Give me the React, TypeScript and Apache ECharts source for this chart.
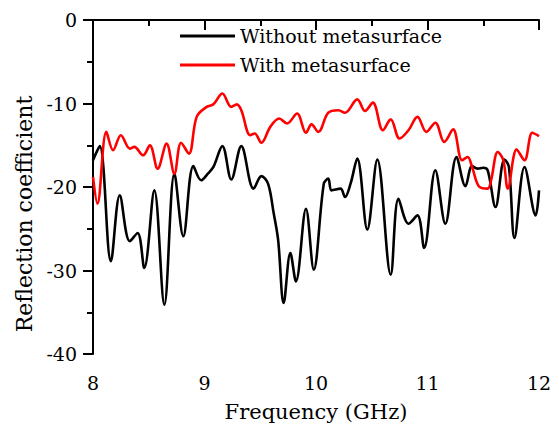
import React, { useEffect, useRef } from "react";
import * as echarts from "echarts";

const seriesNames = ["Without metasurface", "With metasurface"];

const freqWithout = [
  8.0, 8.06, 8.16, 8.24, 8.33, 8.4, 8.46, 8.55, 8.64, 8.73, 8.81, 8.9, 8.97, 9.03, 9.08, 9.16,
  9.24, 9.33, 9.44, 9.51, 9.57, 9.62, 9.66, 9.71, 9.77, 9.82, 9.91, 9.98, 10.07, 10.11, 10.14,
  10.22, 10.26, 10.31, 10.37, 10.46, 10.55, 10.67, 10.74, 10.83, 10.91, 10.97, 11.07, 11.16,
  11.26, 11.34, 11.4, 11.45, 11.5, 11.54, 11.61, 11.69, 11.73, 11.78, 11.87, 11.97, 12.0,
];
const valWithout = [
  -16.8, -15.1, -28.9, -21.0, -26.5, -25.5, -29.7, -20.4, -34.1, -18.4, -25.9, -17.5, -19.2,
  -18.4, -17.6, -15.1, -19.1, -15.1, -20.2, -18.7, -19.6, -23.1, -26.3, -33.9, -27.9, -31.3,
  -22.6, -29.9, -19.6, -19.0, -20.4, -20.2, -21.2, -19.6, -16.6, -25.1, -16.7, -30.5, -21.4,
  -24.4, -23.4, -27.3, -18.0, -24.4, -16.4, -19.9, -17.5, -17.8, -17.7, -18.0, -22.4, -16.7,
  -17.6, -26.1, -17.6, -23.4, -20.4,
];

const freqWith = [
  8.0, 8.04, 8.12, 8.18, 8.25, 8.33, 8.37, 8.45, 8.51, 8.58, 8.66, 8.73, 8.79, 8.86, 8.93, 9.02,
  9.08, 9.16, 9.24, 9.29, 9.33, 9.41, 9.45, 9.51, 9.59, 9.67, 9.74, 9.83, 9.91, 9.96, 10.02,
  10.11, 10.2, 10.26, 10.37, 10.44, 10.51, 10.6, 10.67, 10.75, 10.83, 10.91, 10.99, 11.07,
  11.15, 11.23, 11.31, 11.36, 11.4, 11.46, 11.54, 11.57, 11.63, 11.68, 11.72, 11.8, 11.87,
  11.94, 12.0,
];
const valWith = [
  -18.8, -22.0, -13.4, -15.6, -13.8, -15.4, -15.2, -16.2, -15.0, -17.8, -14.8, -18.4, -14.7,
  -16.0, -11.6, -10.4, -10.1, -8.8, -10.4, -10.1, -10.8, -13.8, -13.6, -14.7, -12.8, -11.8,
  -12.4, -11.2, -13.5, -12.5, -13.4, -11.1, -10.8, -11.1, -9.5, -10.9, -9.9, -13.2, -11.9,
  -14.2, -13.2, -11.6, -13.4, -12.3, -14.6, -13.1, -16.8, -16.4, -17.6, -19.9, -20.2, -19.2,
  -15.8, -16.8, -20.2, -15.5, -16.8, -13.5, -13.9,
];

const xTicks = { min: 8, max: 12, interval: 1 };
const yTicks = { min: -40, max: 0, interval: 10 };

const FONT = "DejaVu Serif";

export default function App() {
  const ref = useRef<HTMLDivElement>(null);

  useEffect(() => {
    if (!ref.current) return;
    const chart = echarts.init(ref.current, undefined, { renderer: "svg" });
    const pairs = (xs: number[], ys: number[]) => xs.map((x, i) => [x, ys[i]]);
    const axisCommon = {
      axisLine: { show: true, lineStyle: { color: "#000", width: 2 } },
      axisTick: { show: true, inside: false, length: 10, lineStyle: { color: "#000", width: 2 } },
      minorTick: { show: true, splitNumber: 2, length: 6, lineStyle: { color: "#000", width: 2 } },
      splitLine: { show: false },
      minorSplitLine: { show: false },
    };
    chart.setOption({
      animation: false,
      backgroundColor: "#fff",
      textStyle: { fontFamily: FONT },
      grid: { left: 93, right: 20, top: 20, bottom: 74, containLabel: false },
      legend: {
        orient: "vertical",
        left: 180,
        top: 24,
        padding: 0,
        itemWidth: 55,
        itemHeight: 3,
        itemGap: 5,
        icon: "rect",
        textStyle: { fontFamily: FONT, fontSize: 19, color: "#000", lineHeight: 24 },
        data: seriesNames,
      },
      xAxis: {
        type: "value",
        min: xTicks.min,
        max: xTicks.max,
        interval: xTicks.interval,
        name: "Frequency (GHz)",
        nameLocation: "middle",
        nameGap: 47,
        nameTextStyle: { fontFamily: FONT, fontSize: 21, color: "#000" },
        axisLabel: { fontFamily: FONT, fontSize: 19, color: "#000", margin: 19 },
        ...axisCommon,
      },
      yAxis: {
        type: "value",
        min: yTicks.min,
        max: yTicks.max,
        interval: yTicks.interval,
        name: "Reflection coefficient",
        nameLocation: "middle",
        nameGap: 54,
        nameTextStyle: {
          fontFamily: FONT,
          fontSize: 22,
          color: "#000",
          padding: [0, 54, 0, 0],
        },
        axisLabel: { fontFamily: FONT, fontSize: 19, color: "#000", margin: 16 },
        ...axisCommon,
      },
      series: [
        {
          name: seriesNames[0],
          type: "line",
          data: pairs(freqWithout, valWithout),
          showSymbol: false,
          smooth: 0.35,
          lineStyle: { color: "#000", width: 2.6 },
          itemStyle: { color: "#000" },
        },
        {
          name: seriesNames[1],
          type: "line",
          data: pairs(freqWith, valWith),
          showSymbol: false,
          smooth: 0.35,
          lineStyle: { color: "#ff0000", width: 2.6 },
          itemStyle: { color: "#ff0000" },
        },
      ],
    });
    return () => chart.dispose();
  }, []);

  return (
    <div
      ref={ref}
      style={{ position: "absolute", left: 0, top: 0, width: 559, height: 428, background: "#fff" }}
    />
  );
}
